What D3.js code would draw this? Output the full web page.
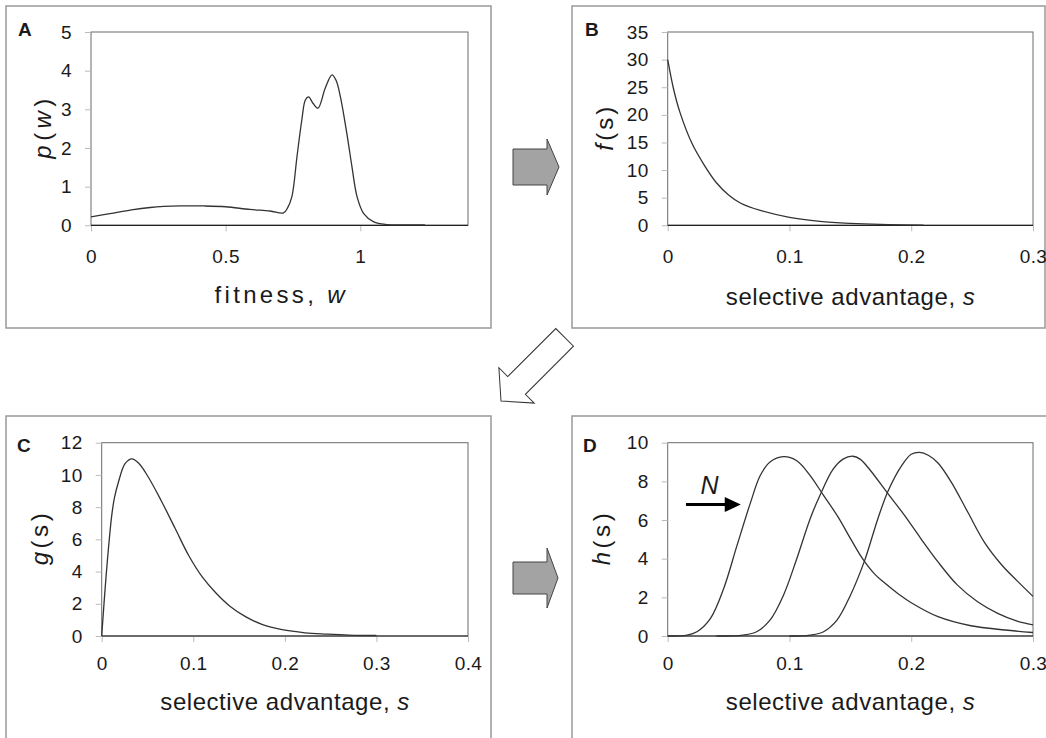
<!DOCTYPE html>
<html>
<head>
<meta charset="utf-8">
<script src="https://cdn.jsdelivr.net/npm/d3@7"></script>
<style>
  body { margin: 0; background: #fff; }
  svg text { font-family: "Liberation Sans", Arial, sans-serif; fill: #1a1a1a; }
</style>
</head>
<body>
<svg id="fig" width="1046" height="738"></svg>
<script>
// A - distribution of fitness p(w)
const wA = [0, 0.07, 0.15, 0.22, 0.33, 0.42, 0.5, 0.59, 0.665, 0.715, 0.73, 0.746, 0.765, 0.783, 0.796, 0.808, 0.825, 0.843, 0.87, 0.895, 0.91, 0.926, 0.95, 0.969, 0.988, 1.012, 1.05, 1.1, 1.15, 1.24];
const pA = [0.22, 0.3, 0.4, 0.46, 0.5, 0.5, 0.48, 0.41, 0.37, 0.32, 0.45, 0.74, 1.78, 2.73, 3.24, 3.32, 3.15, 3.03, 3.55, 3.89, 3.75, 3.33, 2.38, 1.52, 0.74, 0.31, 0.09, 0.02, 0.01, 0.01];

// B - f(s)
const sB = [0, 0.005, 0.01, 0.02, 0.03, 0.04, 0.05, 0.06, 0.076, 0.1, 0.125, 0.15, 0.175, 0.21];
const fB = [30, 24.5, 20.5, 14.8, 10.9, 7.7, 5.5, 4.0, 2.7, 1.45, 0.72, 0.35, 0.15, 0.04];

// C - g(s)
const sC = [0, 0.0055, 0.011, 0.014, 0.018, 0.0255, 0.033, 0.04, 0.05, 0.065, 0.08, 0.095, 0.11, 0.125, 0.14, 0.157, 0.175, 0.197, 0.222, 0.246, 0.27, 0.3];
const gC = [0, 4.2, 7.5, 8.6, 9.5, 10.7, 11.0, 10.75, 9.95, 8.4, 6.7, 5.0, 3.65, 2.65, 1.85, 1.2, 0.72, 0.39, 0.2, 0.12, 0.06, 0.03];

// D - h(s), three population sizes
const sD1 = [0, 0.016, 0.024, 0.035, 0.046, 0.057, 0.068, 0.076, 0.084, 0.095, 0.106, 0.117, 0.128, 0.14, 0.15, 0.16, 0.17, 0.178, 0.19, 0.2, 0.222, 0.249, 0.277, 0.3];
const hD1 = [0, 0.05, 0.22, 0.9, 2.46, 4.7, 6.9, 8.3, 9.0, 9.28, 9.07, 8.3, 7.27, 6.15, 5.05, 4.0, 3.2, 2.75, 2.15, 1.72, 1.0, 0.53, 0.31, 0.18];
const sD2 = [0.04, 0.062, 0.073, 0.084, 0.095, 0.106, 0.117, 0.125, 0.136, 0.144, 0.152, 0.158, 0.166, 0.181, 0.1945, 0.208, 0.222, 0.238, 0.2545, 0.271, 0.287, 0.3];
const hD2 = [0, 0.05, 0.22, 0.82, 2.1, 4.0, 6.07, 7.27, 8.64, 9.15, 9.3, 9.15, 8.6, 7.35, 6.24, 5.03, 3.83, 2.63, 1.77, 1.17, 0.77, 0.57];
const sD3 = [0.1, 0.117, 0.128, 0.139, 0.15, 0.1617, 0.1726, 0.181, 0.192, 0.2, 0.207, 0.214, 0.222, 0.233, 0.2465, 0.26, 0.274, 0.287, 0.3];
const hD3 = [0, 0.05, 0.22, 0.82, 2.1, 3.9, 6.07, 7.5, 8.8, 9.4, 9.5, 9.35, 8.95, 7.95, 6.4, 4.86, 3.7, 2.85, 2.05];

// tick values
const xTicksA = [0, 0.5, 1], yTicksA = [0, 1, 2, 3, 4, 5];
const xTicksB = [0, 0.1, 0.2, 0.3], yTicksB = [0, 5, 10, 15, 20, 25, 30, 35];
const xTicksC = [0, 0.1, 0.2, 0.3, 0.4], yTicksC = [0, 2, 4, 6, 8, 10, 12];
const xTicksD = [0, 0.1, 0.2, 0.3], yTicksD = [0, 2, 4, 6, 8, 10];

const svg = d3.select('#fig');

// one framed panel with plot area, axes and curves
function drawPanel(p) {
    const x = d3.scaleLinear().domain(p.xDomain).range([p.plot[0], p.plot[1]]);
    const y = d3.scaleLinear().domain(p.yDomain).range([p.plot[3], p.plot[2]]);
    const g = svg.append('g').attr('class', 'panel');

    g.append('rect')
        .attr('x', p.box[0]).attr('y', p.box[1])
        .attr('width', p.box[2]).attr('height', p.box[3])
        .attr('fill', 'none').attr('stroke', '#999').attr('stroke-width', 1.5);

    g.append('rect')
        .attr('x', p.plot[0]).attr('y', p.plot[2])
        .attr('width', p.plot[1] - p.plot[0]).attr('height', p.plot[3] - p.plot[2])
        .attr('fill', 'none').attr('stroke', '#6a6a6a').attr('stroke-width', 1);

    const xa = g.append('g')
        .attr('transform', 'translate(0,' + p.plot[3] + ')')
        .call(d3.axisBottom(x).tickValues(p.xTicks).tickFormat(d => String(d))
            .tickSizeOuter(0).tickSize(6).tickPadding(p.xPad));
    const ya = g.append('g')
        .attr('transform', 'translate(' + p.plot[0] + ',0)')
        .call(d3.axisLeft(y).tickValues(p.yTicks).tickFormat(d => String(d))
            .tickSizeOuter(0).tickSize(6).tickPadding(13));
    [xa, ya].forEach(a => {
        a.select('.domain').remove();
        a.selectAll('line').attr('stroke', '#bbb');
        a.selectAll('text')
            .attr('font-size', 19).attr('letter-spacing', 0.4)
            .attr('fill', '#1a1a1a');
    });

    // darker x-axis line
    g.append('line')
        .attr('x1', p.plot[0]).attr('x2', p.plot[1])
        .attr('y1', p.plot[3]).attr('y2', p.plot[3])
        .attr('stroke', '#222').attr('stroke-width', 1.2);

    const line = d3.line().x(d => x(d[0])).y(d => y(d[1])).curve(d3.curveCatmullRom.alpha(0.5));
    p.series.forEach(s => {
        g.append('path')
            .datum(d3.zip(s[0], s[1]))
            .attr('d', line)
            .attr('fill', 'none')
            .attr('stroke', '#333')
            .attr('stroke-width', 1.3);
    });

    // panel letter
    g.append('text')
        .attr('x', p.letterPos[0]).attr('y', p.letterPos[1])
        .attr('font-weight', 'bold').attr('font-size', 19)
        .text(p.letter);

    // x title
    const xt = g.append('text')
        .attr('x', (p.plot[0] + p.plot[1]) / 2).attr('y', p.xTitleY)
        .attr('text-anchor', 'middle').attr('font-size', 24)
        .attr('textLength', p.xTitleLen).attr('lengthAdjust', 'spacing');
    xt.append('tspan').text(p.xTitle[0]);
    xt.append('tspan').attr('font-style', 'italic').text(p.xTitle[1]);

    // y title, rotated
    const cy = (p.plot[2] + p.plot[3]) / 2;
    const yt = g.append('text')
        .attr('transform', 'translate(' + p.yTitleX + ',' + cy + ') rotate(-90)')
        .attr('text-anchor', 'middle').attr('dy', '0.35em').attr('font-size', 24)
        .attr('textLength', p.yTitleLen).attr('lengthAdjust', 'spacing');
    p.yTitle.forEach(t => {
        yt.append('tspan').attr('font-style', t[1] ? 'italic' : 'normal').text(t[0]);
    });

    return { x, y, g };
}

drawPanel({
    box: [6, 6, 485, 322], plot: [91, 468, 32, 225.3],
    xDomain: [0, 1.4], yDomain: [0, 5], xTicks: xTicksA, yTicks: yTicksA, xPad: 18,
    series: [[wA, pA]], letter: 'A', letterPos: [18, 36],
    xTitle: ['fitness, ', 'w'], xTitleY: 303, xTitleLen: 130,
    yTitle: [['p', true], [' ( ', false], ['w', true], [' )', false]], yTitleX: 43, yTitleLen: 60
});
drawPanel({
    box: [572, 6, 473, 322], plot: [667.7, 1033, 32, 225.3],
    xDomain: [0, 0.3], yDomain: [0, 35], xTicks: xTicksB, yTicks: yTicksB, xPad: 18,
    series: [[sB, fB]], letter: 'B', letterPos: [585, 36],
    xTitle: ['selective advantage, ', 's'], xTitleY: 305, xTitleLen: 249,
    yTitle: [['f', true], ['(s)', false]], yTitleX: 605, yTitleLen: 44
});
drawPanel({
    box: [6, 416, 485, 340], plot: [101.7, 468, 442.7, 636],
    xDomain: [0, 0.4], yDomain: [0, 12], xTicks: xTicksC, yTicks: yTicksC, xPad: 15,
    series: [[sC, gC]], letter: 'C', letterPos: [17, 452],
    xTitle: ['selective advantage, ', 's'], xTitleY: 710, xTitleLen: 249,
    yTitle: [['g', true], ['(s)', false]], yTitleX: 40, yTitleLen: 52
});
const pD = drawPanel({
    box: [572, 416, 476, 340], plot: [667.7, 1033, 442.7, 636],
    xDomain: [0, 0.3], yDomain: [0, 10], xTicks: xTicksD, yTicks: yTicksD, xPad: 15,
    series: [[sD1, hD1], [sD2, hD2], [sD3, hD3]], letter: 'D', letterPos: [583, 452],
    xTitle: ['selective advantage, ', 's'], xTitleY: 710, xTitleLen: 249,
    yTitle: [['h', true], ['(s)', false]], yTitleX: 602, yTitleLen: 52
});

// "N" arrow in panel D (data coordinates)
const nArrow = { s0: 0.015, s1: 0.06, h: 6.8 };
pD.g.append('line')
    .attr('x1', pD.x(nArrow.s0)).attr('x2', pD.x(nArrow.s1) - 14)
    .attr('y1', pD.y(nArrow.h)).attr('y2', pD.y(nArrow.h))
    .attr('stroke', '#000').attr('stroke-width', 3);
pD.g.append('path')
    .attr('d', 'M' + pD.x(nArrow.s1) + ',' + pD.y(nArrow.h) + ' l-16,-7.5 l0,15 z')
    .attr('fill', '#000');
pD.g.append('text')
    .attr('x', pD.x(0.027)).attr('y', pD.y(7.37))
    .attr('font-style', 'italic').attr('font-size', 25)
    .text('N');

// grey block arrows between panels
const block = (x0, xb, xt, cy, bh, hh) =>
    [[x0, cy - bh], [xb, cy - bh], [xb, cy - hh], [xt, cy], [xb, cy + hh], [xb, cy + bh], [x0, cy + bh]];
[block(513, 547, 559, 167, 18, 28), block(513, 547, 558, 578, 16, 30)].forEach(pts => {
    svg.append('polygon')
        .attr('points', pts.map(d => d.join(',')).join(' '))
        .attr('fill', '#a3a3a3').attr('stroke', '#444').attr('stroke-width', 1);
});

// open diagonal arrow from B down to C
svg.append('polygon')
    .attr('transform', 'translate(501,401) rotate(-45)')
    .attr('points', '0,0 22,-25 22,-12.5 90,-12.5 90,12.5 22,12.5 22,25')
    .attr('fill', '#fff').attr('stroke', '#333').attr('stroke-width', 1);
</script>
</body>
</html>
